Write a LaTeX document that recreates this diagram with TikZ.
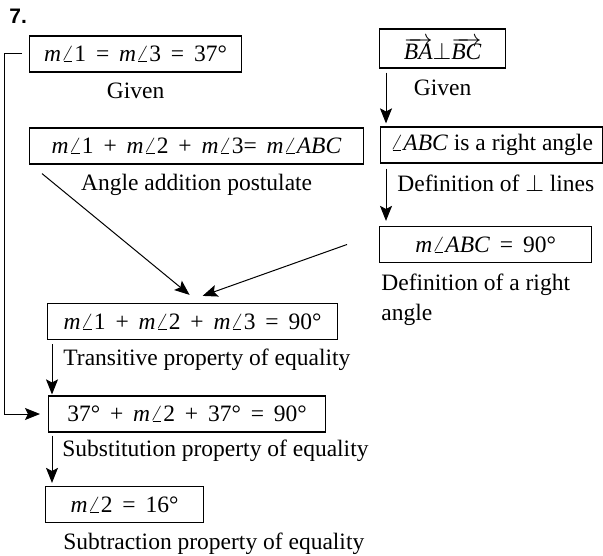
\documentclass[tikz,border=0pt]{standalone}
\usepackage{fontspec}
\setmainfont{Liberation Serif}
\newfontfamily\numfont{Liberation Sans}
\usetikzlibrary{
    positioning,
    arrows.meta,
    calc
}

\newcommand{\mang}[1]{\textit{m}$\angle$#1}
\newcommand{\widesp}{\spaceskip=0.42em plus 0.1em\relax}

\begin{document}
\begin{tikzpicture}[
    x=0.5pt, y=-0.5pt,
    font=\fontsize{11.75}{15}\selectfont,
    stmt/.style={
        draw, line width=0.6pt, minimum height=18pt,
        inner xsep=3pt, inner ysep=0pt,
        execute at begin node=\widesp
    },
    tight/.style={execute at begin node={\spaceskip=0pt\relax}},
    reason/.style={inner sep=0pt, align=left},
    arrow/.style={-{Stealth[length=7.5pt,width=6pt,inset=1.5pt]}, line width=0.5pt},
    line/.style={line width=0.5pt}
]

\useasboundingbox (0,0) rectangle (603,555);

\node[anchor=north west, inner sep=0pt, font=\fontsize{10.5}{12}\selectfont\numfont\bfseries] (num) at (9,9) {7.};

% ============================== LEFT COLUMN ==============================
\node[stmt, minimum width=106pt, anchor=west] (given_eq) at (29,54) {\mang{1} = \mang{3} = 37°};
\node[reason, below=5pt of given_eq] (given_eq_r) {Given};

\node[stmt, minimum width=167pt, anchor=west] (addition) at (29,146) {\mang{1} + \mang{2} + \mang{3}= \mang{\textit{ABC}}};
\node[reason, below=4.5pt of addition] (addition_r) {Angle addition postulate};

\node[stmt, minimum width=145pt, anchor=west] (sum90) at (47,321.5) {\mang{1} + \mang{2} + \mang{3} = 90°};
\node[reason, below=4pt of sum90.south west, anchor=north west, xshift=8pt] (sum90_r) {Transitive property of equality};

\node[stmt, minimum width=138.5pt, anchor=west] (subst) at (48,414) {37° + \mang{2} + 37° = 90°};
\node[reason, below=3.5pt of subst.south west, anchor=north west, xshift=7pt] (subst_r) {Substitution property of equality};

\node[stmt, minimum width=79pt, anchor=west] (result) at (45,504.5) {\mang{2} = 16°};
\node[reason, below=4.5pt of result.south west, anchor=north west, xshift=9pt] (result_r) {Subtraction property of equality};

% ============================== RIGHT COLUMN ==============================
\node[stmt, minimum width=63pt, minimum height=19.5pt, anchor=west] (perp) at (379,48.5) {$\overrightarrow{\textit{BA}}{\perp}\overrightarrow{\textit{BC}}$};
\node[reason, below=5.5pt of perp] (perp_r) {Given};

\node[stmt, tight, minimum width=111pt, anchor=west] (rightangle) at (380,145) {$\angle$\textit{ABC} is a right angle};
\node[reason, below=5.5pt of rightangle.south west, anchor=north west, xshift=8.5pt] (rightangle_r) {Definition of $\perp$ lines};

\node[stmt, minimum width=106pt, anchor=west] (ninety) at (379,244.5) {\mang{\textit{ABC}} = 90°};
\node[reason, below=5pt of ninety.south west, anchor=north west, xshift=1pt] (ninety_r) {Definition of a right\\angle};

% ============================== FLOW ==============================
\draw[arrow] ($(perp.south west)+(7,4)$) -- ($(rightangle.north west)+(6,-3)$);
\draw[arrow] ($(rightangle.south west)+(6,5)$) -- ($(ninety.north west)+(7,-5)$);
\draw[arrow] ($(addition.south west)+(13,9)$) -- ($(sum90.north)+(-3,-8)$);
\draw[arrow] ($(ninety.west)+(-32,0)$) -- ($(sum90.north)+(10,-7)$);
\draw[arrow] ($(sum90.south west)+(5,4)$) -- ($(subst.north west)+(4,-1)$);
\draw[arrow] ($(subst.south west)+(4,3)$) -- ($(result.north west)+(7,-3)$);

% Given values substituted
\draw[arrow] ($(given_eq.west)+(-7,0)$) -- ++(-18,0) |- ($(subst.west)+(-8,0)$);

\end{tikzpicture}
\end{document}
